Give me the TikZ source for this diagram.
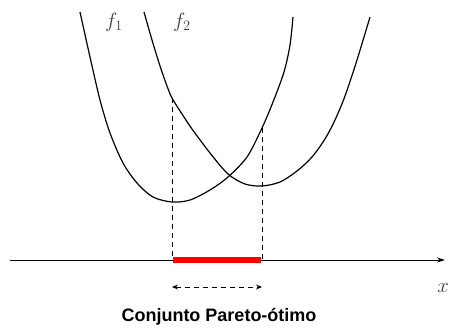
\documentclass[tikz,border=0pt]{standalone}
\usepackage{fontspec}
\setsansfont{Liberation Sans}
\usetikzlibrary{arrows.meta}
\begin{document}
\begin{tikzpicture}[x=1pt,y=-1pt,
  curve/.style={line width=1.2pt,black},
  guide/.style={line width=0.9pt,dash pattern=on 5pt off 4pt},
  axis/.style={line width=0.9pt,-{Stealth[length=8pt,width=5pt]}},
  lbl/.style={font=\fontsize{21}{24}\selectfont,text=black!75}]
\useasboundingbox (0,0) rectangle (450,332);
% named points
\coordinate (a0) at (10,260);
\coordinate (a1) at (445,260);
\coordinate (p1) at (172,98);
\coordinate (p2) at (262,128);
\coordinate (b1) at (172,260);
\coordinate (b2) at (262,260);
\coordinate (d1) at (172,287);
\coordinate (d2) at (262,287);
% curves
\draw[curve] plot[smooth,tension=0.5] coordinates {(80,12) (90,57) (100,100) (110,133) (123,163) (137,183) (153,197) (172,202) (190,200) (210,190) (228,177) (247,157) (262,128) (273,102) (284,72) (290,45) (293,17)};
\draw[curve] plot[smooth,tension=0.5] coordinates {(144,12) (152,40) (160,66) (167,86) (172,98) (182,114) (192,129) (210,153) (228,174) (245,184) (262,186) (280,182) (297,171) (312,157) (325,139) (335,120) (345,96) (357,60) (370,17)};
\draw[guide] (p1) -- (b1);
\draw[guide] (p2) -- (b2);
\draw[axis] (a0) -- (a1);
\draw[red,line width=6pt] (173,260) -- (261,260);
\draw[guide,{Stealth[length=6pt,width=5pt]}-{Stealth[length=6pt,width=5pt]}] (d1) -- (d2);
\node[lbl] (l1) at (114,22) {$f_1$};
\node[lbl] (l2) at (182,22) {$f_2$};
\node[lbl,anchor=east,inner sep=1pt] (lx) at (450,288) {$x$};
\node[font=\sffamily\bfseries\fontsize{18}{21}\selectfont] (t) at (219,317) {Conjunto Pareto-ótimo};
\end{tikzpicture}
\end{document}
